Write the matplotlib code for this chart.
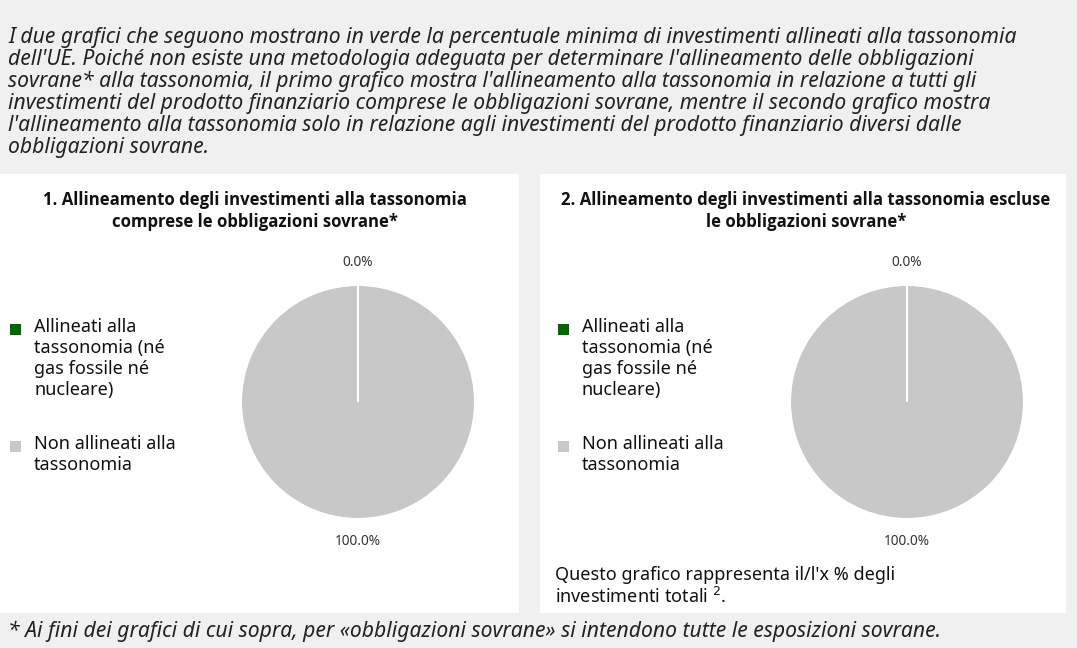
import matplotlib.pyplot as plt
from matplotlib.patches import Rectangle

W, H = 1077, 648

intro_lines = [
    "I due grafici che seguono mostrano in verde la percentuale minima di investimenti allineati alla tassonomia",
    "dell'UE. Poiché non esiste una metodologia adeguata per determinare l'allineamento delle obbligazioni",
    "sovrane* alla tassonomia, il primo grafico mostra l'allineamento alla tassonomia in relazione a tutti gli",
    "investimenti del prodotto finanziario comprese le obbligazioni sovrane, mentre il secondo grafico mostra",
    "l'allineamento alla tassonomia solo in relazione agli investimenti del prodotto finanziario diversi dalle",
    "obbligazioni sovrane.",
]
footer = "* Ai fini dei grafici di cui sopra, per «obbligazioni sovrane» si intendono tutte le esposizioni sovrane."

titles = [
    "1. Allineamento degli investimenti alla tassonomia\ncomprese le obbligazioni sovrane*",
    "2. Allineamento degli investimenti alla tassonomia escluse\nle obbligazioni sovrane*",
]
categories = ["Allineati alla\ntassonomia (né\ngas fossile né\nnucleare)", "Non allineati alla\ntassonomia"]
values_1 = [0.0, 100.0]
values_2 = [0.0, 100.0]
colors = ["#006600", "#c8c8c8"]
note = ["Questo grafico rappresenta il/l'x % degli", "investimenti totali $^{2}$."]

plt.rcParams["font.family"] = ["Noto Sans", "DejaVu Sans"]

fig = plt.figure(figsize=(W / 100, H / 100), dpi=100)
fig.patch.set_facecolor("#f0f0f0")


def fx(x):
    return x / W


def fy(y):
    return 1 - y / H


# white panels behind the charts
for x0, x1 in [(0, 519), (540, 1066)]:
    fig.patches.append(Rectangle((fx(x0), fy(613)), fx(x1 - x0), 439 / H,
                                 transform=fig.transFigure, facecolor="white",
                                 edgecolor="none", zorder=-1))

for i, line in enumerate(intro_lines):
    fig.text(fx(8), fy(37 + i * 22.2), line, fontsize=15.2, style="italic",
             color="#222222", va="center", ha="left")
fig.text(fx(8), fy(631), footer, fontsize=15.2, style="italic",
         color="#222222", va="center", ha="left")

panels = [
    dict(vals=values_1, title=titles[0], tx=255, cx=358, lx=15, ltx=34),
    dict(vals=values_2, title=titles[1], tx=806, cx=907, lx=563, ltx=582),
]
r = 117
cy = 402
for p in panels:
    fig.text(fx(p["tx"]), fy(211), p["title"], fontsize=12.1, fontweight="bold",
             family=["Open Sans", "DejaVu Sans"],
             ha="center", va="center", linespacing=1.35, color="#111111")
    size = 2 * r * 1.3
    ax = fig.add_axes([fx(p["cx"] - size / 2), fy(cy + size / 2), size / W, size / H])
    wedges, _, _ = ax.pie(p["vals"], colors=colors, startangle=90, counterclock=False,
                          autopct="%.1f%%", pctdistance=1.19, radius=1,
                          wedgeprops=dict(edgecolor="white", linewidth=1.5),
                          textprops=dict(fontsize=9.8, color="#333333"))
    # keep the (empty) aligned slice's white edge visible on top
    wedges[0].set_zorder(3)
    ax.set_xlim(-1.3, 1.3)
    ax.set_ylim(-1.3, 1.3)
    ax.set_aspect("equal")
    ax.axis("off")

    # legend
    for (ly, label, col) in [(329, categories[0], colors[0]), (446, categories[1], colors[1])]:
        fig.patches.append(Rectangle((fx(p["lx"] - 5.5), fy(ly + 5.5)), 11 / W, 11 / H,
                                     transform=fig.transFigure, facecolor=col,
                                     edgecolor="none"))
        fig.text(fx(p["ltx"]), fy(ly - 11), label, fontsize=13, ha="left", va="top",
                 linespacing=1.22, color="#111111")

fig.text(fx(555), fy(575), note[0], fontsize=13, ha="left", va="center", color="#111111")
fig.text(fx(555), fy(597), note[1], fontsize=13, ha="left", va="center", color="#111111")

fig.savefig("out.png", dpi=100, facecolor=fig.get_facecolor())
